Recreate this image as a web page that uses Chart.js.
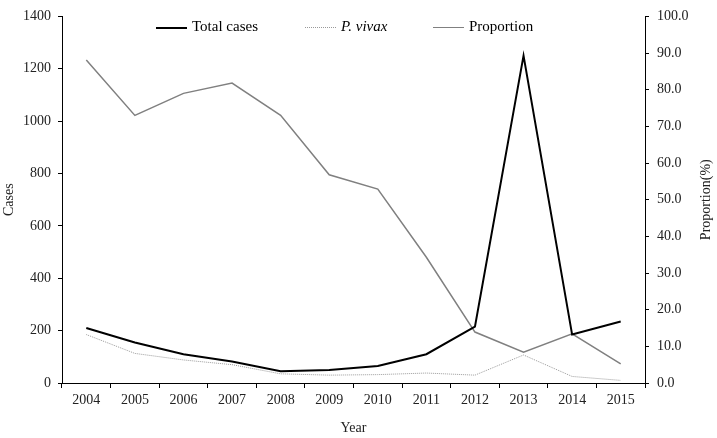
<!DOCTYPE html>
<html>
<head>
<meta charset="utf-8">
<script src="https://cdn.jsdelivr.net/npm/chart.js@4/dist/chart.umd.min.js"></script>
<style>
    html, body { margin: 0; padding: 0; background: #fff; }
    #wrap { position: relative; width: 717px; height: 438px; }
    #legend {
        position: absolute; top: 16px; left: 0; width: 717px; height: 20px;
        font-family: "Liberation Serif", "Times New Roman", serif; font-size: 15px; color: #000;
    }
    .item { position: absolute; top: 0; line-height: 20px; white-space: nowrap; }
    .swatch { display: inline-block; width: 31px; vertical-align: middle; margin-right: 5px; }
</style>
</head>
<body>
<div id="wrap">
    <canvas id="chart" width="717" height="438"></canvas>
    <div id="legend">
        <div class="item" style="left:156px"><span class="swatch" style="border-top:2px solid #000"></span>Total cases</div>
        <div class="item" style="left:305px"><span class="swatch" style="border-top:1px dotted #999"></span><i>P. vivax</i></div>
        <div class="item" style="left:433px"><span class="swatch" style="border-top:1.5px solid #808080"></span>Proportion</div>
    </div>
</div>
<script>
const years = ['2004', '2005', '2006', '2007', '2008', '2009', '2010', '2011', '2012', '2013', '2014', '2015'];
const totalCases = [210, 155, 110, 82, 45, 50, 65, 110, 215, 1250, 185, 235];
const vivaxCases = [185, 113, 88, 70, 35, 30, 32, 38, 30, 107, 25, 10];
const proportion = [88.1, 73.0, 79.0, 81.8, 73.0, 56.8, 52.9, 34.3, 13.9, 8.4, 13.4, 5.2];

const serif = '"Liberation Serif", "Times New Roman", serif';

// right axis title reads bottom-to-top like the left one
const rightTitle = {
    id: 'rightTitle',
    afterDraw(chart) {
        const ctx = chart.ctx;
        const area = chart.chartArea;
        ctx.save();
        ctx.translate(706, (area.top + area.bottom) / 2);
        ctx.rotate(-Math.PI / 2);
        ctx.font = '14px ' + serif;
        ctx.fillStyle = '#222';
        ctx.textAlign = 'center';
        ctx.textBaseline = 'middle';
        ctx.fillText('Proportion(%)', 0, 0);
        ctx.restore();
    }
};

new Chart(document.getElementById('chart'), {
    type: 'line',
    data: {
        labels: years,
        datasets: [
            {
                label: 'Total cases',
                data: totalCases,
                yAxisID: 'y',
                borderColor: '#000',
                borderWidth: 2,
                pointRadius: 0,
                tension: 0
            },
            {
                label: 'P. vivax',
                data: vivaxCases,
                yAxisID: 'y',
                borderColor: '#9a9a9a',
                borderWidth: 1,
                borderDash: [1, 1],
                pointRadius: 0,
                tension: 0
            },
            {
                label: 'Proportion',
                data: proportion,
                yAxisID: 'y1',
                borderColor: '#808080',
                borderWidth: 1.5,
                pointRadius: 0,
                tension: 0
            }
        ]
    },
    options: {
        responsive: false,
        animation: false,
        layout: { padding: { top: 7, left: 0, right: 0, bottom: 0 } },
        plugins: {
            legend: { display: false },
            tooltip: { enabled: false }
        },
        scales: {
            x: {
                offset: true,
                grid: { display: true, drawOnChartArea: false, drawTicks: true, tickLength: 5, color: '#000', offset: true },
                border: { color: '#000', width: 1 },
                ticks: { color: '#222', font: { family: serif, size: 14 }, padding: 4, maxRotation: 0 },
                title: { display: true, text: 'Year', color: '#222', font: { family: serif, size: 14 }, padding: { top: 0, bottom: 1 } },
                afterFit: (s) => { s.height = 55; }
            },
            y: {
                position: 'left',
                min: 0,
                max: 1400,
                ticks: { stepSize: 200, color: '#222', font: { family: serif, size: 14 }, padding: 7, callback: (v) => String(v) },
                grid: { display: true, drawOnChartArea: false, drawTicks: true, tickLength: 4, color: '#000' },
                border: { color: '#000', width: 1 },
                title: { display: true, text: 'Cases', color: '#222', font: { family: serif, size: 14 }, padding: { top: 1, bottom: 0 } },
                afterFit: (s) => { s.width = 62; }
            },
            y1: {
                position: 'right',
                min: 0,
                max: 100,
                ticks: {
                    stepSize: 10, color: '#222', font: { family: serif, size: 14 }, padding: 8,
                    callback: (v) => Number(v).toFixed(1)
                },
                grid: { display: true, drawOnChartArea: false, drawTicks: true, tickLength: 4, color: '#000' },
                border: { color: '#000', width: 1 },
                title: { display: false },
                afterFit: (s) => { s.width = 72; }
            }
        }
    },
    plugins: [rightTitle]
});
</script>
</body>
</html>
